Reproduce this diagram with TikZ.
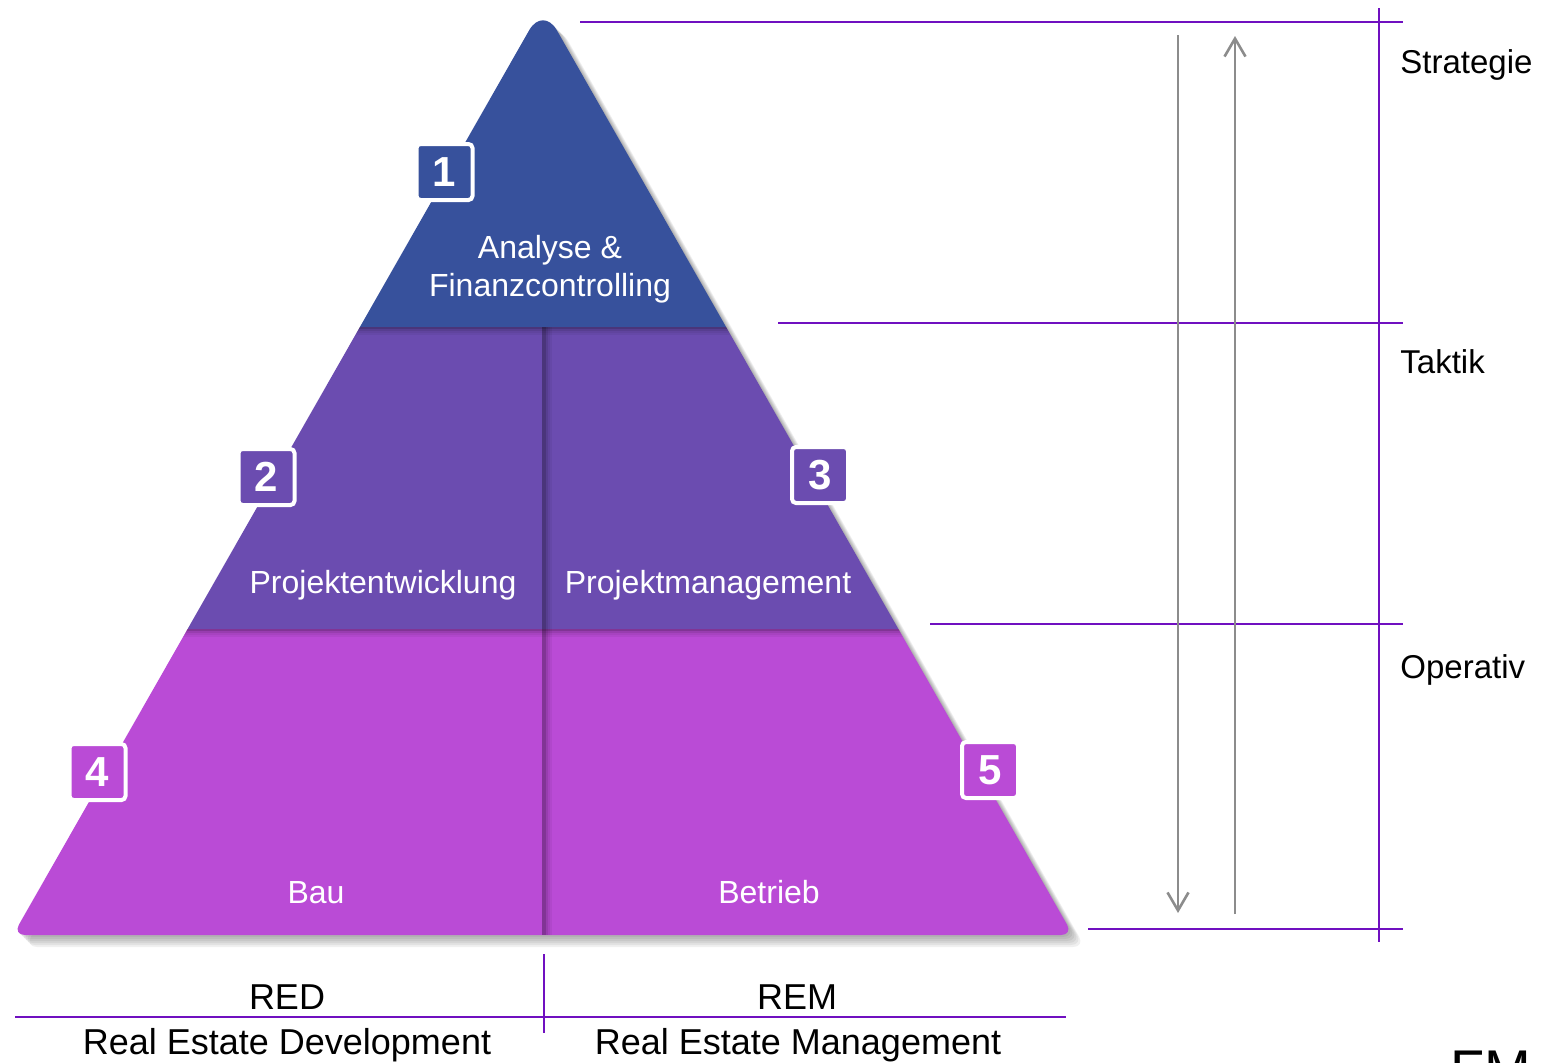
\documentclass[tikz,border=0pt]{standalone}
\usepackage{fontspec}
\setmainfont{Liberation Sans}
\usetikzlibrary{arrows.meta}

\definecolor{topblue}{HTML}{37519C}
\definecolor{midviolet}{HTML}{6B4CB0}
\definecolor{basemagenta}{HTML}{BA4BD6}
\definecolor{levelcol}{HTML}{7010C0}
\definecolor{flowgray}{HTML}{8C8C8C}

\begin{document}
\begin{tikzpicture}[
    x=0.5pt, y=-0.5pt,
    numbox/.style={rectangle, draw=white, line width=2pt, rounded corners=2pt, minimum size=28pt, inner sep=0pt, text=white, font=\fontsize{21}{21}\selectfont\bfseries},
    inlabel/.style={text=white, font=\fontsize{16}{19}\selectfont, align=center},
    level/.style={anchor=base west, inner sep=0pt, font=\fontsize{16.5}{19}\selectfont},
    area/.style={anchor=base, font=\fontsize{18}{22}\selectfont},
    levelline/.style={draw=levelcol, line width=1pt},
    flow/.style={draw=flowgray, line width=1.3pt, -{Straight Barb[length=9pt, width=10.5pt]}}]

    \useasboundingbox (0,0) rectangle (1558,1062);
    \clip (0,0) rectangle (1558,1062);

    % corners of the pyramid
    \coordinate (apex) at (543,6);
    \coordinate (bl) at (13,935);
    \coordinate (br) at (1073,935);
    \path[save path=\pyr] (bl) [rounded corners=14pt] -- (apex) [rounded corners=6pt] -- (br) -- cycle;

    % soft shadow
    \foreach \s in {2,4,6,8,10,12}
        \fill[black, opacity=0.06, shift={(\s,\s)}]
            (13,935) [rounded corners=14pt] -- (543,6) [rounded corners=6pt] -- (1073,935) -- cycle;

    % the three bands
    \fill[topblue] (359.9,327) [rounded corners=14pt] -- (apex) [sharp corners] -- (726.1,327) -- cycle;
    \fill[midviolet] (187.6,629) -- (359.9,327) -- (726.1,327) -- (898.4,629) -- cycle;
    \fill[basemagenta] (187.6,629) [rounded corners=6pt] -- (bl) -- (br) [sharp corners] -- (898.4,629) -- cycle;

    % inner shadows of the bands
    \begin{scope}
        \clip[use path=\pyr];
        \foreach \d/\o in {1/0.3,3/0.18,5/0.1,7/0.05} {
            \draw[black, opacity=\o, line width=1pt] (0,{327+\d}) -- (1558,{327+\d});
            \draw[black, opacity=\o, line width=1pt] (0,{629+\d}) -- (1558,{629+\d});
            \draw[black, opacity=\o, line width=1pt] ({544+\d},327) -- ({544+\d},935);
        }
        \draw[black, opacity=0.3, line width=1pt] (543,327) -- (543,935);
    \end{scope}

    % texts in the bands
    \node[inlabel] (analyse) at (550,269) {Analyse \&\\Finanzcontrolling};
    \node[inlabel, anchor=base] (entwicklung) at (383,593) {Projektentwicklung};
    \node[inlabel, anchor=base] (management) at (708,593) {Projektmanagement};
    \node[inlabel, anchor=base] (bau) at (316,903) {Bau};
    \node[inlabel, anchor=base] (betrieb) at (769,903) {Betrieb};

    % numbers
    \node[numbox, fill=topblue] (n1) at (444.5,172) {1};
    \node[numbox, fill=midviolet] (n2) at (266.5,477) {2};
    \node[numbox, fill=midviolet] (n3) at (820,475) {3};
    \node[numbox, fill=basemagenta] (n4) at (97.5,772) {4};
    \node[numbox, fill=basemagenta] (n5) at (990,770) {5};

    % levels on the right
    \draw[levelline] (580,22) -- (1403,22);
    \draw[levelline] (778,323) -- (1403,323);
    \draw[levelline] (930,624) -- (1403,624);
    \draw[levelline] (1088,929) -- (1403,929);
    \draw[levelline] (1379,8) -- (1379,942);

    \node[level] (strategie) at (1400,73) {Strategie};
    \node[level] (taktik) at (1400,373) {Taktik};
    \node[level] (operativ) at (1400,678) {Operativ};

    % top-down and bottom-up
    \coordinate (downtop) at (1178,35);
    \coordinate (downend) at (1178,913);
    \coordinate (upstart) at (1235,914);
    \coordinate (upend) at (1235,36);
    \draw[flow] (downtop) -- (downend);
    \draw[flow] (upstart) -- (upend);

    % RED / REM
    \draw[levelline] (15,1017) -- (1066,1017);
    \draw[levelline] (544,954) -- (544,1033);
    \node[area] (red) at (287,1009) {RED};
    \node[area] (rem) at (797,1009) {REM};
    \node[area] (redlong) at (287,1054) {Real Estate Development};
    \node[area] (remlong) at (798,1054) {Real Estate Management};
    \node[anchor=base west, inner sep=0pt, font=\fontsize{28}{30}\selectfont] (fm) at (1450,1089) {FM};
\end{tikzpicture}
\end{document}
